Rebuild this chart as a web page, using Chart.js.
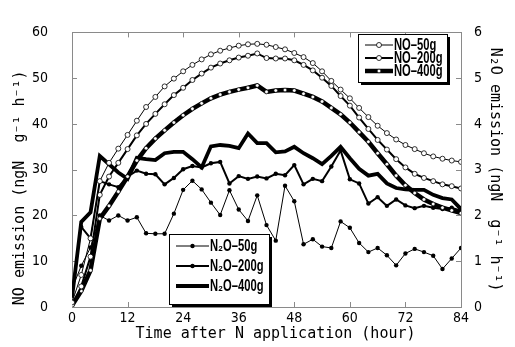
<!DOCTYPE html>
<html><head><meta charset="utf-8">
<script src="https://cdn.jsdelivr.net/npm/chart.js@4/dist/chart.umd.min.js"></script>
<style>html,body{margin:0;padding:0;background:#fff}</style>
</head><body>
<canvas id="c" width="515" height="347" style="width:515px;height:347px;display:block"></canvas>
<script>
const hours = [0,2,4,6,8,10,12,14,16,18,20,22,24,26,28,30,32,34,36,38,40,42,44,46,48,50,52,54,56,58,60,62,64,66,68,70,72,74,76,78,80,82,84];
const xTicks = [0,12,24,36,48,60,72,84];
const noTicks = [0,10,20,30,40,50,60];
const n2oTicks = [0,1,2,3,4,5,6];
const seriesNames = ['NO–50g','NO–200g','NO–400g','N₂O–50g','N₂O–200g','N₂O–400g'];

const no50 = [1,7,15,27.5,31.5,34.6,37.6,40.7,43.7,45.9,48.2,49.9,51.5,52.9,54.1,55.2,56.0,56.6,57.1,57.4,57.5,57.3,56.8,56.3,55.5,54.6,53.3,51.5,49.4,47.5,45.6,43.5,41.5,39.6,38.0,36.6,35.4,34.5,33.6,32.9,32.4,32.0,31.7];
const no200 = [0.5,4.5,11,24.5,28.5,31.5,34.5,37.5,40.0,42.2,44.3,46.3,47.9,49.6,51.0,52.3,53.2,53.9,54.5,54.9,55.4,54.4,54.3,54.3,53.9,52.9,51.7,50.1,48.3,46.1,44.0,41.4,38.9,36.5,34.4,32.3,30.5,29.1,28.2,27.5,26.8,26.4,25.9];
const no400 = [0.3,3.5,8,19.3,22.1,25.2,28.5,32.0,34.7,36.8,38.6,40.3,41.9,43.3,44.5,45.6,46.4,47.0,47.5,47.9,48.4,47.0,47.3,47.4,47.3,46.6,45.9,44.9,43.5,42.1,40.3,38.2,36.1,33.6,31.2,28.7,26.6,24.9,23.5,22.5,21.7,21.1,20.5];
const n2o50 = [0.4,0.9,1.3,2.0,1.89,2.0,1.89,1.96,1.61,1.6,1.6,2.04,2.56,2.76,2.57,2.28,2.01,2.55,2.13,1.88,2.44,1.79,1.45,2.65,2.31,1.37,1.48,1.32,1.29,1.87,1.73,1.40,1.20,1.29,1.13,0.91,1.17,1.27,1.20,1.12,0.83,1.06,1.29];
const n2o200 = [0.3,1.75,1.5,2.75,2.68,2.62,2.85,2.98,2.91,2.90,2.68,2.82,3.01,3.08,3.05,3.14,3.17,2.70,2.86,2.80,2.85,2.81,2.91,2.88,3.10,2.68,2.80,2.75,3.07,3.42,2.79,2.70,2.26,2.40,2.21,2.35,2.22,2.16,2.21,2.17,2.14,2.17,2.10];
const n2o400 = [0.2,1.86,2.07,3.3,3.12,2.94,2.8,3.26,3.23,3.21,3.36,3.39,3.39,3.23,3.05,3.51,3.54,3.52,3.47,3.79,3.58,3.58,3.38,3.40,3.50,3.36,3.25,3.12,3.30,3.50,3.25,3.02,2.87,2.91,2.70,2.60,2.57,2.56,2.56,2.45,2.38,2.35,2.14];

const pts = arr => arr.map((v,i)=>({x:hours[i], y:v}));

const tickFont = {family:"'DejaVu Sans Condensed','Liberation Sans Narrow','Liberation Sans',Arial,sans-serif", size:14};
const titleFont = {family:"'DejaVu Sans Mono','Liberation Mono',monospace", size:15};
const legFont = "bold 16px 'Liberation Sans',Arial,sans-serif";

const datasets = [
  {label:seriesNames[0], data:pts(no50), yAxisID:'y', borderColor:'#000', borderWidth:1, pointRadius:2.5, pointBackgroundColor:'#fff', pointBorderColor:'#000', pointBorderWidth:0.8},
  {label:seriesNames[1], data:pts(no200), yAxisID:'y', borderColor:'#000', borderWidth:2, pointRadius:2.5, pointBackgroundColor:'#fff', pointBorderColor:'#000', pointBorderWidth:0.8},
  {label:seriesNames[2], data:pts(no400), yAxisID:'y', borderColor:'#000', borderWidth:4.5, pointRadius:1.8, pointBackgroundColor:'#fff', pointBorderColor:'#000', pointBorderWidth:0.5},
  {label:seriesNames[3], data:pts(n2o50), yAxisID:'y2', borderColor:'#000', borderWidth:1, pointRadius:2.2, pointBackgroundColor:'#000', pointBorderColor:'#000', pointBorderWidth:0},
  {label:seriesNames[4], data:pts(n2o200), yAxisID:'y2', borderColor:'#000', borderWidth:2, pointRadius:2.2, pointBackgroundColor:'#000', pointBorderColor:'#000', pointBorderWidth:0},
  {label:seriesNames[5], data:pts(n2o400), yAxisID:'y2', borderColor:'#000', borderWidth:3.8, pointRadius:0, pointBackgroundColor:'#000', pointBorderColor:'#000', pointBorderWidth:0}
];

const frame = {
  id:'frame',
  beforeDatasetsDraw(chart){
    const {ctx, chartArea:a, scales} = chart;
    ctx.save();
    ctx.strokeStyle = '#8a8a8a'; ctx.lineWidth = 1;
    ctx.strokeRect(Math.round(a.left)+0.5, Math.round(a.top)+0.5, Math.round(a.right-a.left), Math.round(a.bottom-a.top));
    ctx.beginPath();
    const L = 5;
    scales.x.ticks.forEach(t=>{
      const p = Math.round(scales.x.getPixelForValue(t.value))+0.5;
      ctx.moveTo(p, a.bottom); ctx.lineTo(p, a.bottom-L);
      ctx.moveTo(p, a.top); ctx.lineTo(p, a.top+L);
    });
    scales.y.ticks.forEach(t=>{
      const p = Math.round(scales.y.getPixelForValue(t.value))+0.5;
      ctx.moveTo(a.left, p); ctx.lineTo(a.left+L, p);
    });
    scales.y2.ticks.forEach(t=>{
      const p = Math.round(scales.y2.getPixelForValue(t.value))+0.5;
      ctx.moveTo(a.right, p); ctx.lineTo(a.right-L, p);
    });
    ctx.stroke();
    ctx.restore();
  }
};

function drawBox(ctx, x, y, w, h){
  ctx.fillStyle = '#000';
  ctx.fillRect(x+3, y+3, w, h);
  ctx.fillStyle = '#fff';
  ctx.fillRect(x, y, w, h);
  ctx.strokeStyle = '#000'; ctx.lineWidth = 1;
  ctx.strokeRect(x+0.5, y+0.5, w, h);
}
function drawEntry(ctx, ds, x1, x2, y, tx){
  ctx.strokeStyle = ds.borderColor; ctx.lineWidth = ds.borderWidth;
  ctx.beginPath(); ctx.moveTo(x1, y); ctx.lineTo(x2, y); ctx.stroke();
  if (ds.pointRadius > 0){
    ctx.beginPath(); ctx.arc((x1+x2)/2, y, ds.pointRadius, 0, Math.PI*2);
    ctx.fillStyle = ds.pointBackgroundColor; ctx.fill();
    if (ds.pointBorderWidth>0){ctx.lineWidth = ds.pointBorderWidth; ctx.strokeStyle = ds.pointBorderColor; ctx.stroke();}
  }
  ctx.save();
  ctx.fillStyle = '#000'; ctx.font = legFont; ctx.textBaseline = 'middle'; ctx.textAlign='left';
  ctx.translate(tx, y+1); ctx.scale(0.7, 1);
  ctx.fillText(ds.label, 0, 0);
  ctx.restore();
}
const legends = {
  id:'legends',
  afterDraw(chart){
    const ctx = chart.ctx, d = chart.data.datasets;
    ctx.save();
    drawBox(ctx, 358, 34, 89, 48);
    drawEntry(ctx, d[0], 365, 393, 45, 394);
    drawEntry(ctx, d[1], 365, 393, 58, 394);
    drawEntry(ctx, d[2], 365, 393, 71, 394);
    drawBox(ctx, 169, 234, 100, 70);
    drawEntry(ctx, d[3], 176, 209, 246, 210);
    drawEntry(ctx, d[4], 176, 209, 266, 210);
    drawEntry(ctx, d[5], 176, 209, 286, 210);
    ctx.restore();
  }
};

new Chart(document.getElementById('c'), {
  type:'line',
  data:{datasets},
  plugins:[frame, legends],
  options:{
    responsive:false, animation:false, devicePixelRatio:1,
    layout:{padding:{top:21, left:0, right:0, bottom:0}},
    plugins:{legend:{display:false}, tooltip:{enabled:false}},
    elements:{line:{tension:0}},
    scales:{
      x:{type:'linear', min:0, max:84,
        afterBuildTicks: s => { s.ticks = xTicks.map(v=>({value:v})); },
        afterFit: s => { s.height = 40; },
        grid:{display:false, drawTicks:false}, border:{display:false},
        ticks:{color:'#000', font:tickFont, padding:3, maxRotation:0},
        title:{display:true, text:'  Time after N application (hour)', color:'#000', font:{...titleFont, size:15}, padding:{top:0,bottom:4}}
      },
      y:{position:'left', min:0, max:60,
        afterBuildTicks: s => { s.ticks = noTicks.map(v=>({value:v})); },
        afterFit: s => { s.width = 72; },
        grid:{display:false, drawTicks:false}, border:{display:false},
        ticks:{color:'#000', font:tickFont, padding:24},
        title:{display:true, text:'NO emission (ngN  g⁻¹ h⁻¹)    ', color:'#000', font:titleFont, padding:{top:11,bottom:0}}
      },
      y2:{position:'right', min:0, max:6,
        afterBuildTicks: s => { s.ticks = n2oTicks.map(v=>({value:v})); },
        afterFit: s => { s.width = 54; },
        grid:{display:false, drawTicks:false}, border:{display:false},
        ticks:{color:'#000', font:tickFont, padding:13},
        title:{display:true, text:'N₂O emission (ngN  g⁻¹ h⁻¹)', color:'#000', font:titleFont, padding:{top:11,bottom:0}}
      }
    }
  }
});
</script>
</body></html>
